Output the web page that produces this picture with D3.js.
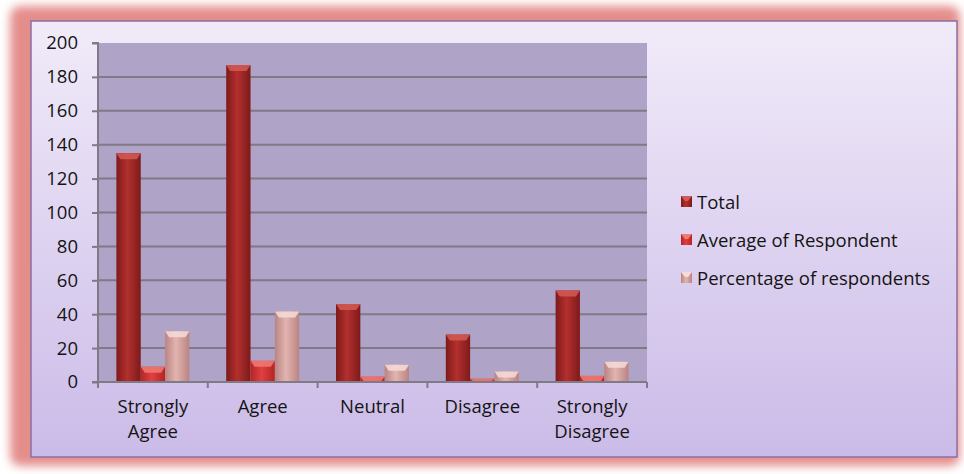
<!DOCTYPE html>
<html>
<head>
<meta charset="utf-8">
<script src="https://cdn.jsdelivr.net/npm/d3@7"></script>
<style>
  body { margin: 0; background: #ffffff; }
  text { font-family: "Open Sans", "Liberation Sans", sans-serif; fill: #141414; }
</style>
</head>
<body>
<div id="chart"></div>
<script>
var svgWidth = 964;
var svgHeight = 474;

// data
var categories = ["Strongly Agree", "Agree", "Neutral", "Disagree", "Strongly Disagree"];
var seriesNames = ["Total", "Average of Respondent", "Percentage of respondents"];
var total = [135, 187, 46, 28, 54];
var average = [9, 12.5, 3.1, 1.9, 3.6];
var percentage = [30, 41.6, 10.2, 6.2, 12];
var yTicks = [0, 20, 40, 60, 80, 100, 120, 140, 160, 180, 200];

var seriesValues = [total, average, percentage];
var seriesColors = [
    {dark: "#7e1a1a", mid: "#b3302e", light: "#d45a55"},
    {dark: "#b52424", mid: "#e04040", light: "#f07b73"},
    {dark: "#b98482", mid: "#e2b4b0", light: "#f6dcd8"}
];

var margin = {top: 43, left: 98};
var plotW = 549;
var plotH = 339;

var svg = d3.select("#chart")
    .append("svg")
    .attr("width", svgWidth)
    .attr("height", svgHeight);

var defs = svg.append("defs");

var blur = defs.append("filter").attr("id", "glow")
    .attr("x", "-5%").attr("y", "-5%").attr("width", "110%").attr("height", "110%");
blur.append("feGaussianBlur").attr("stdDeviation", 5);

var panelGrad = defs.append("linearGradient").attr("id", "panelGrad")
    .attr("x1", 0).attr("y1", 0).attr("x2", 0).attr("y2", 1);
panelGrad.append("stop").attr("offset", "0%").attr("stop-color", "#f1ebf9");
panelGrad.append("stop").attr("offset", "100%").attr("stop-color", "#cbbbe8");

seriesColors.forEach(function(c, i){
    var g = defs.append("linearGradient").attr("id", "bar" + i)
        .attr("x1", 0).attr("y1", 0).attr("x2", 1).attr("y2", 0);
    g.append("stop").attr("offset", "0%").attr("stop-color", c.dark);
    g.append("stop").attr("offset", "45%").attr("stop-color", c.mid);
    g.append("stop").attr("offset", "100%").attr("stop-color", c.dark);
});

// pink frame with soft edge
svg.append("rect")
    .attr("x", 10).attr("y", 6)
    .attr("width", 950).attr("height", 460)
    .attr("rx", 10)
    .attr("fill", "#e48e8c")
    .attr("filter", "url(#glow)");

// inner panel
svg.append("rect")
    .attr("x", 31).attr("y", 21)
    .attr("width", 926).attr("height", 436)
    .attr("fill", "url(#panelGrad)")
    .attr("stroke", "#8a6fa3")
    .attr("stroke-width", 1.5);

var chartGroup = svg.append("g")
    .attr("transform", `translate(${margin.left},${margin.top})`);

var xScale = d3.scaleBand()
    .domain(categories)
    .range([0, plotW]);

var groupW = 73;
var xInner = d3.scaleBand()
    .domain(seriesNames)
    .range([(xScale.bandwidth() - groupW) / 2, (xScale.bandwidth() + groupW) / 2]);

var yScale = d3.scaleLinear()
    .domain([0, 200])
    .range([plotH, 0]);

// plot background
chartGroup.append("rect")
    .attr("width", plotW)
    .attr("height", plotH)
    .attr("fill", "#afa3c8");

// gridlines
chartGroup.append("g")
    .selectAll("line")
    .data(yTicks.filter(d => d > 0 && d < 200))
    .enter()
    .append("line")
    .attr("x1", 0).attr("x2", plotW)
    .attr("y1", d => yScale(d)).attr("y2", d => yScale(d))
    .attr("stroke", "#7f7a86")
    .attr("stroke-width", 2);

// bars
var groups = chartGroup.selectAll(".cat")
    .data(categories)
    .enter()
    .append("g")
    .attr("transform", d => `translate(${xScale(d)},0)`);

seriesNames.forEach(function(name, si){
    groups.append("rect")
        .attr("x", xInner(name))
        .attr("y", (d, i) => yScale(seriesValues[si][i]))
        .attr("width", xInner.bandwidth())
        .attr("height", (d, i) => plotH - yScale(seriesValues[si][i]))
        .attr("fill", "url(#bar" + si + ")");
    // bevel cap highlight
    groups.append("path")
        .attr("d", function(d, i){
            var x0 = xInner(name), w = xInner.bandwidth();
            var y0 = yScale(seriesValues[si][i]);
            var h = Math.min(6, plotH - y0);
            return `M${x0},${y0}L${x0 + w},${y0}L${x0 + w - 4},${y0 + h}L${x0 + 4},${y0 + h}Z`;
        })
        .attr("fill", seriesColors[si].light)
        .attr("opacity", 0.85);
});

// left axis
var leftAxis = d3.axisLeft(yScale)
    .tickValues(yTicks)
    .tickSize(6)
    .tickPadding(14);
var yAxis = chartGroup.append("g").call(leftAxis);
yAxis.select(".domain").attr("stroke", "#7f7a86").attr("stroke-width", 2).attr("d", `M-6,${plotH}H0V0H-6`);
yAxis.selectAll(".tick line").attr("stroke", "#7f7a86").attr("stroke-width", 2);
yAxis.selectAll(".tick text")
    .style("font-size", "18.5px")
    .attr("fill", "#141414");

// bottom axis
var bottomG = chartGroup.append("g")
    .attr("transform", `translate(0,${plotH})`);
bottomG.append("line")
    .attr("x1", 0).attr("x2", plotW)
    .attr("stroke", "#7f7a86").attr("stroke-width", 2);
bottomG.selectAll(".tk")
    .data(categories.concat(["end"]))
    .enter()
    .append("line")
    .attr("x1", (d, i) => i * xScale.step())
    .attr("x2", (d, i) => i * xScale.step())
    .attr("y1", 0).attr("y2", 6)
    .attr("stroke", "#7f7a86").attr("stroke-width", 2);

var catLabels = bottomG.selectAll(".cl")
    .data(categories)
    .enter()
    .append("text")
    .attr("text-anchor", "middle")
    .attr("x", d => xScale(d) + xScale.bandwidth() / 2)
    .attr("y", 31)
    .style("font-size", "18.5px");
catLabels.each(function(d){
    var words = d.split(" ");
    var t = d3.select(this);
    words.forEach(function(w, i){
        t.append("tspan")
            .attr("x", t.attr("x"))
            .attr("dy", i === 0 ? 0 : 25)
            .text(w);
    });
});

// legend
var legend = svg.append("g")
    .attr("transform", "translate(681,202)");
var legendRows = legend.selectAll("g")
    .data(seriesNames)
    .enter()
    .append("g")
    .attr("transform", (d, i) => `translate(0,${i * 38})`);
legendRows.append("rect")
    .attr("x", 0).attr("y", -6)
    .attr("width", 11).attr("height", 11)
    .attr("fill", (d, i) => "url(#bar" + i + ")");
legendRows.append("path")
    .attr("d", "M0,-6L11,-6L7,-1L4,-1Z")
    .attr("fill", (d, i) => seriesColors[i].light);
legendRows.append("text")
    .attr("x", 16)
    .attr("y", 7)
    .style("font-size", "18.5px")
    .text(d => d);
</script>
</body>
</html>
